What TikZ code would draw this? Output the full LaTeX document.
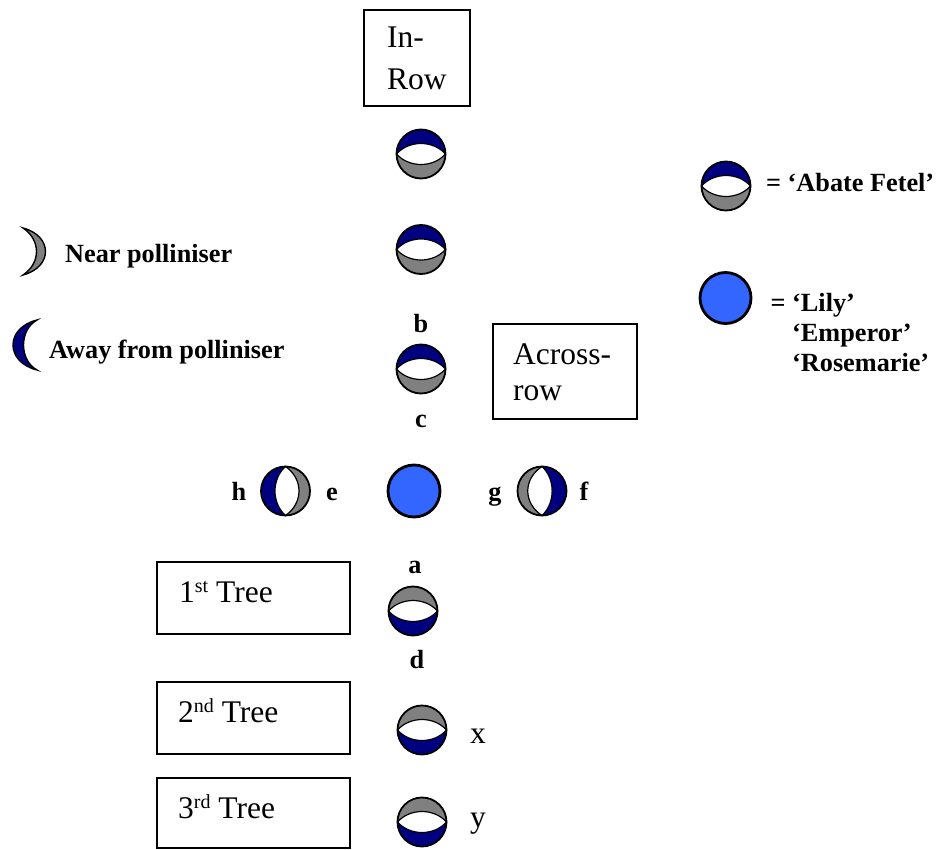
\documentclass[tikz,border=0pt]{standalone}
\usepackage{fontspec}
\setmainfont{Liberation Serif}
\definecolor{navy}{RGB}{0,0,128}
\definecolor{midgray}{RGB}{128,128,128}
\definecolor{lilyblue}{RGB}{51,102,255}
\begin{document}
\begin{tikzpicture}[x=1pt,y=-1pt,
  outline/.style={draw=black,line width=1.8pt},
  seam/.style={draw=black,line width=1.2pt},
  frame/.style={draw=black,line width=1.4pt,inner sep=0pt},
  lbl/.style={font=\fontsize{26.25}{30}\selectfont\bfseries,inner sep=0pt},
  txt/.style={font=\fontsize{31.5}{36}\selectfont,inner sep=0pt},
  % tree seen from the side of the row: #1 upper half, #2 lower half
  pics/fruitH/.style n args={2}{code={
    \begin{scope}
      \clip (0,0) circle[radius=24.5];
      \fill[#1] (-25,-25) rectangle (25,0);
      \fill[#2] (-25,0) rectangle (25,25);
    \end{scope}
    \filldraw[fill=white,seam] (-24.5,0) .. controls (-12,-14) and (12,-14) .. (24.5,0)
      .. controls (12,14) and (-12,14) .. (-24.5,0) -- cycle;
    \draw[outline] (0,0) circle[radius=24.5];
  }},
  % tree across the row: #1 left half, #2 right half, #3/#4 control offsets of the lens
  pics/fruitV/.style n args={4}{code={
    \begin{scope}
      \clip (0,0) circle[radius=24.5];
      \fill[#1] (-25,-25) rectangle (0,25);
      \fill[#2] (0,-25) rectangle (25,25);
    \end{scope}
    \filldraw[fill=white,seam] (0,-24.5) .. controls (#3,-12) and (#3,12) .. (0,24.5)
      .. controls (#4,12) and (#4,-12) .. (0,-24.5) -- cycle;
    \draw[outline] (0,0) circle[radius=24.5];
  }},
  lily/.style={circle,fill=lilyblue,draw=black,line width=2.8pt,inner sep=0pt}
]
\useasboundingbox (0,0) rectangle (939,850);

% boxes
\node[frame,minimum width=106pt,minimum height=96pt] (inrow) at (417,58) {};
\node[txt,anchor=base west] (inrowa) at (387,48) {In-};
\node[txt,anchor=base west] (inrowb) at (387,90) {Row};

\node[frame,minimum width=144pt,minimum height=95pt] (across) at (565,371.5) {};
\node[txt,anchor=base west] (acrossa) at (513,364) {Across-};
\node[txt,anchor=base west] (acrossb) at (513,400) {row};

\node[frame,minimum width=193pt,minimum height=72pt] (tree1) at (253.5,598) {};
\node[txt,anchor=base west] (tree1t) at (179,602)
  {1\raisebox{10pt}{\fontsize{20}{20}\selectfont st} Tree};
\node[frame,minimum width=193pt,minimum height=72pt] (tree2) at (253.5,718) {};
\node[txt,anchor=base west] (tree2t) at (178,722)
  {2\raisebox{10pt}{\fontsize{20}{20}\selectfont nd} Tree};
\node[frame,minimum width=193pt,minimum height=70pt] (tree3) at (253.5,813) {};
\node[txt,anchor=base west] (tree3t) at (178,818)
  {3\raisebox{10pt}{\fontsize{20}{20}\selectfont rd} Tree};

% column of trees in the row
\pic at (421,154) {fruitH={navy}{midgray}};
\pic at (421,249.5) {fruitH={navy}{midgray}};
\pic at (421,369) {fruitH={navy}{midgray}};
\pic at (413,611) {fruitH={midgray}{navy}};
\pic at (422,730) {fruitH={midgray}{navy}};
\pic at (422,822) {fruitH={midgray}{navy}};

% pollinator row
\pic at (285.5,491) {fruitV={navy}{midgray}{-14}{18}};
\node[lily,minimum size=52pt] (pol) at (414,491) {};
\pic at (542,491) {fruitV={midgray}{navy}{-19}{13.5}};

% side labels
\node[lbl,anchor=base] (lb) at (421,332) {b};
\node[lbl,anchor=base] (lc) at (421,427) {c};
\node[lbl,anchor=base] (la) at (415,573) {a};
\node[lbl,anchor=base] (ld) at (417,668) {d};
\node[lbl,anchor=base] (lh) at (239,500) {h};
\node[lbl,anchor=base] (le) at (332,500) {e};
\node[lbl,anchor=base] (lg) at (495,500) {g};
\node[lbl,anchor=base] (lf) at (584,500) {f};
\node[txt,anchor=base west] (lx) at (470,743) {x};
\node[txt,anchor=base west] (ly) at (470,827) {y};

% key for the sides
\filldraw[fill=midgray,draw=black,line width=1.4pt]
  (23,228) .. controls (53,236) and (53,267) .. (23,275)
  .. controls (41,263) and (41,240) .. (23,228) -- cycle;
\node[lbl,anchor=base west] (near) at (65,262) {Near polliniser};
\filldraw[fill=navy,draw=black,line width=1.4pt]
  (37,320) .. controls (5,328) and (5,362) .. (37,370)
  .. controls (19,360) and (19,330) .. (37,320) -- cycle;
\node[lbl,anchor=base west] (away) at (49,358) {Away from polliniser};

% key for the cultivars
\pic at (726,186) {fruitH={navy}{midgray}};
\node[lbl,anchor=base west] (keyab) at (766,192) {= ‘Abate Fetel’};
\node[lily,minimum size=51pt] (keylily) at (725.5,298) {};
\node[lbl,anchor=base west] (keyli) at (792,311) {\llap{= }‘Lily’};
\node[lbl,anchor=base west] (keyem) at (792,341) {‘Emperor’};
\node[lbl,anchor=base west] (keyro) at (792,371) {‘Rosemarie’};
\end{tikzpicture}
\end{document}
